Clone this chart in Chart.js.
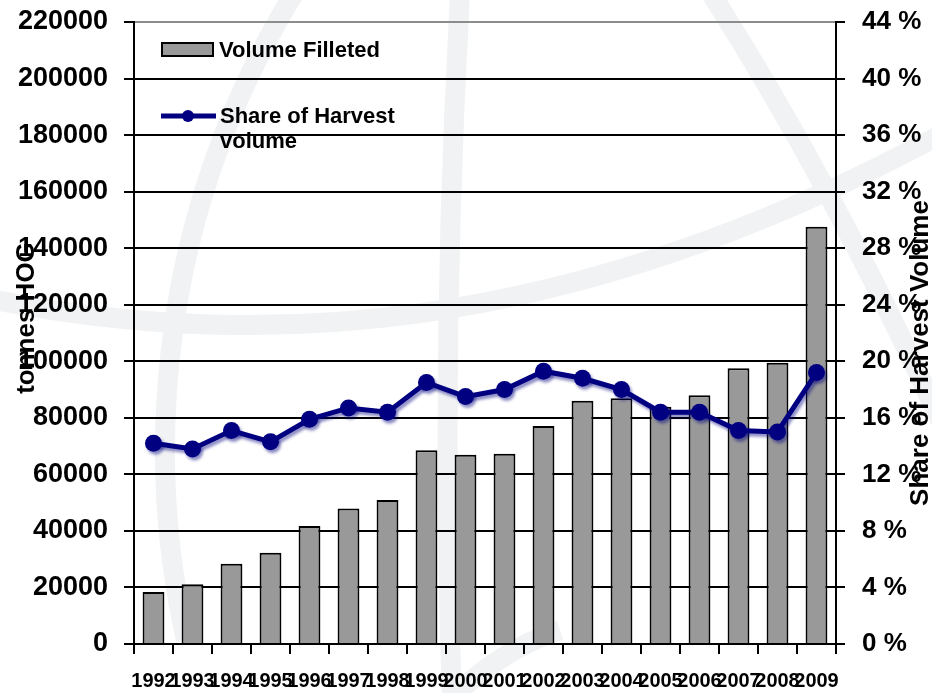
<!DOCTYPE html>
<html>
<head>
<meta charset="utf-8">
<title>Volume Filleted</title>
<script src="https://cdn.jsdelivr.net/npm/chart.js@4.4.1/dist/chart.umd.min.js"></script>
<style>
  html, body { margin: 0; padding: 0; background: #fff; }
  #wrap { width: 932px; height: 693px; }
</style>
</head>
<body>
<div id="wrap"><canvas id="productChart" width="932" height="693"></canvas></div>
<script>
const years = ['1992', '1993', '1994', '1995', '1996', '1997', '1998', '1999', '2000',
  '2001', '2002', '2003', '2004', '2005', '2006', '2007', '2008', '2009'];

// tonnes HOG
const volumeFilleted = [18400, 21100, 28400, 32300, 41700, 47900, 50900, 68500, 66900,
  67300, 77100, 86000, 86900, 83900, 88000, 97500, 99500, 147600];

// percent of harvest volume
const shareOfHarvest = [14.2, 13.8, 15.1, 14.3, 15.9, 16.7, 16.4, 18.5, 17.5,
  18.0, 19.3, 18.8, 18.0, 16.4, 16.4, 15.1, 15.0, 19.2];

const leftTicks = { min: 0, max: 220000, step: 20000 };
const rightTicks = { min: 0, max: 44, step: 4 };

const FONT = '"Liberation Sans", Arial, sans-serif';
const NAVY = '#000080';
const BAR_GREY = '#999999';

// faint globe logo behind the plot
const watermark = {
  id: 'watermark',
  beforeDraw(chart) {
    const c = chart.ctx;
    c.save();
    c.strokeStyle = '#f1f2f3';
    c.lineWidth = 20;
    c.lineCap = 'butt';

    c.beginPath();
    c.arc(1037, 450, 872, Math.PI * 0.93, Math.PI * 1.4);
    c.stroke();

    c.beginPath();
    c.moveTo(460, -5);
    c.quadraticCurveTo(440, 350, 452, 700);
    c.stroke();

    c.beginPath();
    c.moveTo(712, -5);
    c.quadraticCurveTo(830, 180, 940, 420);
    c.stroke();

    c.beginPath();
    c.moveTo(-5, 300);
    c.bezierCurveTo(250, 350, 560, 340, 940, 135);
    c.stroke();

    c.beginPath();
    c.moveTo(450, 700);
    c.quadraticCurveTo(500, 650, 560, 630);
    c.stroke();
    c.restore();
  }
};

// soft drop shadow under the share line
const lineShadow = {
  id: 'lineShadow',
  beforeDatasetDraw(chart, args) {
    if (args.meta.type !== 'line') return;
    const c = chart.ctx;
    c.save();
    c.shadowColor = 'rgba(0, 0, 128, 0.45)';
    c.shadowOffsetX = 2;
    c.shadowOffsetY = 3;
    c.shadowBlur = 3;
  },
  afterDatasetDraw(chart, args) {
    if (args.meta.type !== 'line') return;
    chart.ctx.restore();
  }
};

// legend and rotated axis titles drawn by hand so they can sit over the plot
const overlay = {
  id: 'overlay',
  afterDraw(chart) {
    const c = chart.ctx;
    const ds = chart.data.datasets;
    const bar = ds.find(d => d.type === 'bar');
    const line = ds.find(d => d.type === 'line');
    c.save();
    c.fillStyle = '#000';
    c.textBaseline = 'middle';
    c.textAlign = 'left';
    c.font = 'bold 22px ' + FONT;

    c.fillStyle = bar.backgroundColor;
    c.fillRect(162, 43, 51, 13);
    c.strokeStyle = '#000';
    c.lineWidth = 2;
    c.strokeRect(162, 43, 51, 13);
    c.fillStyle = '#000';
    c.fillText(bar.label, 219, 51);

    c.strokeStyle = line.borderColor;
    c.lineWidth = 5;
    c.beginPath();
    c.moveTo(161, 116);
    c.lineTo(216, 116);
    c.stroke();
    c.fillStyle = line.borderColor;
    c.beginPath();
    c.arc(188, 116, 6, 0, Math.PI * 2);
    c.fill();
    c.fillStyle = '#000';
    c.fillText('Share of Harvest', 220, 117);
    c.fillText('volume', 220, 142);

    c.font = 'bold 26px ' + FONT;
    c.textAlign = 'center';
    c.save();
    c.translate(27, 318);
    c.rotate(-Math.PI / 2);
    c.fillText('tonnes HOG', 0, 0);
    c.restore();

    c.save();
    c.translate(921, 353);
    c.rotate(-Math.PI / 2);
    c.fillText('Share of Harvest Volume', 0, 0);
    c.restore();
    c.restore();
  }
};

// fixed axis sizes so the plot box lands where the labels expect it
function fixY(width) {
  return scale => {
    scale.width = width;
    scale.paddingTop = 0;
    scale.paddingBottom = 0;
  };
}

const ctx = document.getElementById('productChart');

new Chart(ctx, {
  data: {
    labels: years,
    datasets: [
      {
        type: 'line',
        label: 'Share of Harvest volume',
        data: shareOfHarvest,
        yAxisID: 'y1',
        borderColor: NAVY,
        backgroundColor: NAVY,
        borderWidth: 5,
        pointRadius: 8.5,
        pointBorderWidth: 0,
        pointBackgroundColor: NAVY,
        tension: 0,
        order: 0
      },
      {
        type: 'bar',
        label: 'Volume Filleted',
        data: volumeFilleted,
        yAxisID: 'y',
        backgroundColor: BAR_GREY,
        borderColor: '#000',
        borderWidth: 2,
        borderSkipped: 'bottom',
        categoryPercentage: 1,
        barPercentage: 0.56,
        order: 1
      }
    ]
  },
  options: {
    responsive: false,
    animation: false,
    events: [],
    layout: { padding: { top: 22, left: 0, right: 0, bottom: 0 } },
    scales: {
      x: {
        offset: true,
        grid: {
          display: true,
          drawOnChartArea: false,
          drawTicks: true,
          tickLength: 10,
          color: '#000',
          lineWidth: 2,
          offset: true
        },
        border: { display: true, color: '#000', width: 2 },
        ticks: {
          autoSkip: false,
          maxRotation: 0,
          minRotation: 0,
          padding: 15,
          color: '#000',
          font: { family: FONT, size: 20, weight: 'bold' }
        },
        afterFit(scale) {
          scale.height = 49;
          scale.paddingLeft = 0;
          scale.paddingRight = 0;
        }
      },
      y: {
        position: 'left',
        min: leftTicks.min,
        max: leftTicks.max,
        grid: {
          color: c => (c.tick && c.tick.value === leftTicks.max ? '#8c8c8c' : '#000'),
          lineWidth: 2,
          tickLength: 10,
          tickColor: '#000'
        },
        border: { display: true, color: '#000', width: 2 },
        ticks: {
          stepSize: leftTicks.step,
          padding: 16,
          color: '#000',
          font: { family: FONT, size: 27, weight: 'bold' },
          callback: v => String(v)
        },
        afterFit: fixY(134)
      },
      y1: {
        position: 'right',
        min: rightTicks.min,
        max: rightTicks.max,
        grid: {
          drawOnChartArea: false,
          tickLength: 9,
          color: '#000',
          lineWidth: 2
        },
        border: { display: true, color: '#000', width: 2 },
        ticks: {
          stepSize: rightTicks.step,
          padding: 17,
          color: '#000',
          font: { family: FONT, size: 26, weight: 'bold' },
          callback: v => v + ' %'
        },
        afterFit: fixY(96)
      }
    },
    plugins: {
      legend: { display: false },
      tooltip: { enabled: false },
      title: { display: false }
    }
  },
  plugins: [watermark, lineShadow, overlay]
});
</script>
</body>
</html>
